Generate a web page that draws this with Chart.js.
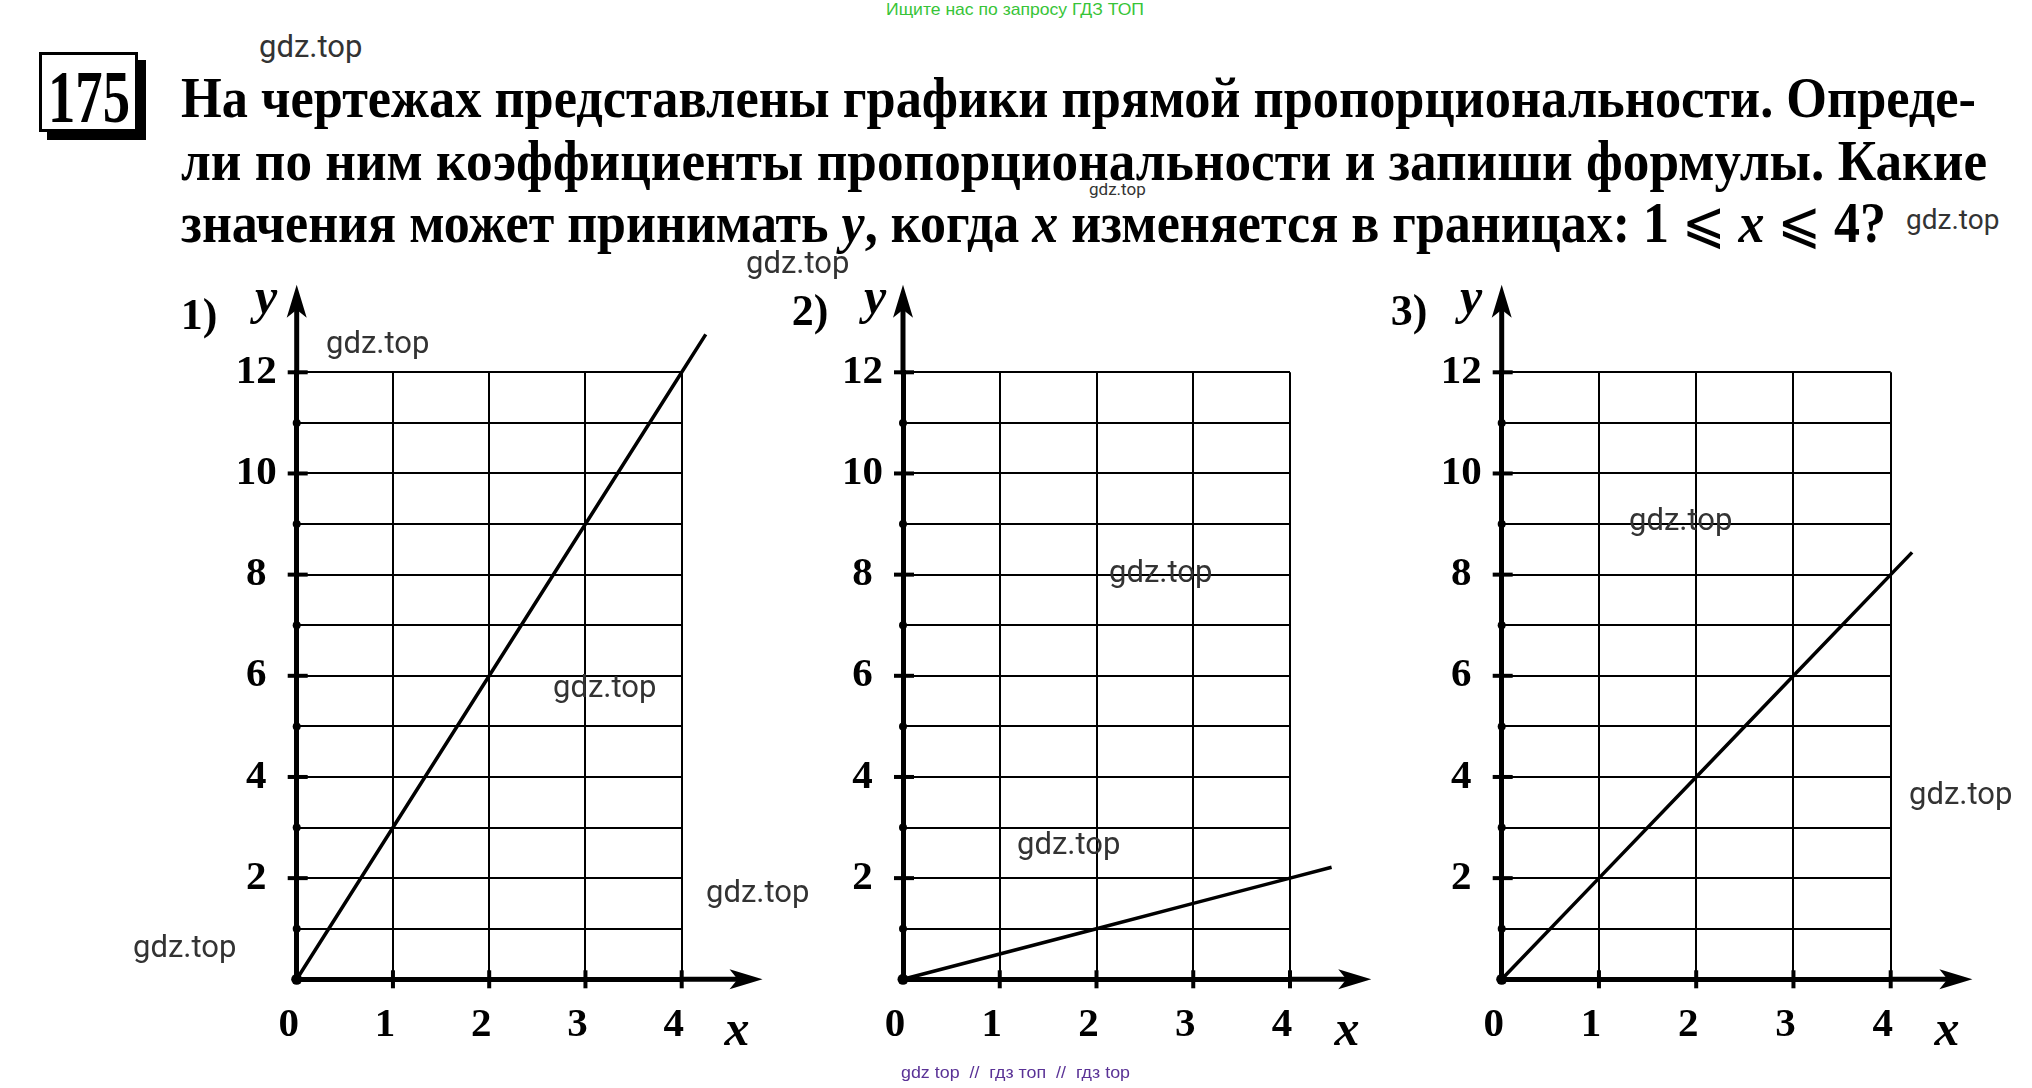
<!DOCTYPE html>
<html>
<head>
<meta charset="utf-8">
<script src="https://cdn.jsdelivr.net/npm/chart.js@4.4.1/dist/chart.umd.min.js"></script>
<style>
html,body{margin:0;padding:0;background:#fff;}
body{width:2032px;height:1088px;position:relative;overflow:hidden;}
canvas{position:absolute;}
.t{position:absolute;white-space:nowrap;transform-origin:0 50%;line-height:1;}
.title{font-family:'Liberation Serif','DejaVu Serif',serif;font-weight:bold;font-size:58px;color:#000;}
.title i{font-style:italic;}
.sym{font-family:'DejaVu Sans','Liberation Serif',serif;font-weight:normal;}
.wm{position:absolute;white-space:nowrap;line-height:1;font-family:Roboto,'Liberation Sans',sans-serif;color:#333;font-size:31px;}
.c{position:absolute;transform:translate(-50%,-50%);white-space:nowrap;line-height:1;color:#000;}
.num{font-family:'Liberation Serif',serif;font-weight:bold;font-size:44px;}
.ax{font-family:'Liberation Serif',serif;font-style:italic;font-weight:bold;font-size:50px;}
#box{position:absolute;left:39px;top:52px;width:93px;height:74px;border:3px solid #000;box-shadow:8px 8px 0 #000;background:#fff;}
#box span{position:absolute;left:6px;top:5px;font-family:'Liberation Serif',serif;font-weight:bold;font-size:74px;line-height:1;white-space:nowrap;transform-origin:0 0;}
</style>
</head>
<body>
<div class="t" data-w="258" style="left:886px;top:1px;font-family:'Liberation Sans Narrow','Liberation Sans',sans-serif;font-size:17px;color:#37c437;">Ищите нас по запросу ГДЗ ТОП</div>

<div id="box"><span data-w="82">175</span></div>

<div class="t title" data-w="1795" style="left:181px;top:69px;">На чертежах представлены графики прямой пропорциональности. Опреде-</div>
<div class="t title" data-w="1806" style="left:181px;top:132px;">ли по ним коэффициенты пропорциональности и запиши формулы. Какие</div>
<div class="t title" data-w="1705" style="left:181px;top:193px;">значения может принимать <i>y</i>, когда <i>x</i> изменяется в границах: 1 <span class="sym">⩽</span> <i>x</i> <span class="sym">⩽</span> 4?</div>

<canvas id="c1" width="634" height="800" style="left:166px;top:262px;width:634px;height:800px;"></canvas>
<canvas id="c2" width="620" height="800" style="left:780px;top:262px;width:620px;height:800px;"></canvas>
<canvas id="c3" width="650" height="800" style="left:1380px;top:262px;width:650px;height:800px;"></canvas>

<div class="c num" style="left:199px;top:315px;">1)</div>
<div class="c num" style="left:810px;top:311px;">2)</div>
<div class="c num" style="left:1409px;top:311px;">3)</div>
<div class="c ax" style="left:266px;top:296px;">y</div>
<div class="c ax" style="left:875px;top:296px;">y</div>
<div class="c ax" style="left:1471px;top:296px;">y</div>
<div class="c ax" style="left:737px;top:1028px;">x</div>
<div class="c ax" style="left:1347px;top:1028px;">x</div>
<div class="c ax" style="left:1947px;top:1028px;">x</div>

<div class="wm" style="left:259px;top:31px;">gdz.top</div>
<div class="wm" style="left:1089px;top:181px;font-size:17px;">gdz.top</div>
<div class="wm" style="left:1906px;top:206px;font-size:28px;">gdz.top</div>
<div class="wm" style="left:746px;top:247px;">gdz.top</div>
<div class="wm" style="left:326px;top:327px;">gdz.top</div>
<div class="wm" style="left:553px;top:671px;">gdz.top</div>
<div class="wm" style="left:706px;top:876px;">gdz.top</div>
<div class="wm" style="left:133px;top:931px;">gdz.top</div>
<div class="wm" style="left:1109px;top:556px;">gdz.top</div>
<div class="wm" style="left:1017px;top:828px;">gdz.top</div>
<div class="wm" style="left:1629px;top:504px;">gdz.top</div>
<div class="wm" style="left:1909px;top:778px;">gdz.top</div>

<div class="t" data-w="229" style="left:901px;top:1064px;font-family:'Liberation Sans Narrow','Liberation Sans',sans-serif;font-size:17px;color:#5a3296;">gdz top &nbsp;// &nbsp;гдз топ &nbsp;// &nbsp;гдз top</div>

<script>
// ---- data ----
const xTickValues = [0, 1, 2, 3, 4];
const xTickLabels = ['0', '1', '2', '3', '4'];
const yTickValues = [0, 1, 2, 3, 4, 5, 6, 7, 8, 9, 10, 11, 12];
const yTickLabels = ['', '', '2', '', '4', '', '6', '', '8', '', '10', '', '12'];

// points listed from the far end of each line back to the origin
const chart1X = [4.25, 4, 3, 2, 1, 0];
const chart1Y = [12.75, 12, 9, 6, 3, 0];
const chart2X = [4.43, 4, 3, 2, 1, 0];
const chart2Y = [2.215, 2, 1.5, 1, 0.5, 0];
const chart3X = [4.22, 4, 3, 2, 1, 0];
const chart3Y = [8.44, 8, 6, 4, 2, 0];

// fit texts to measured widths
function fitTexts() {
  document.querySelectorAll('[data-w]').forEach(el => {
    el.style.transform = 'none';
    el.style.display = 'inline-block';
    const w = el.getBoundingClientRect().width;
    const target = parseFloat(el.dataset.w);
    if (w > 0) el.style.transform = 'scaleX(' + (target / w) + ')';
  });
}

const decor = {
  id: 'decor',
  afterDraw(chart, args, opts) {
    const { ctx } = chart;
    const x = chart.scales.x, y = chart.scales.y;
    const x0 = x.getPixelForValue(0), y0 = y.getPixelForValue(0);
    const xEnd = x.getPixelForValue(x.max), yEnd = y.getPixelForValue(y.max);
    const xTip = x.getPixelForValue(opts.xArrow), yTip = y.getPixelForValue(opts.yArrow);
    ctx.save();
    ctx.strokeStyle = '#000';
    ctx.fillStyle = '#000';
    ctx.lineWidth = 5;
    ctx.lineCap = 'butt';
    ctx.beginPath(); ctx.moveTo(xEnd - 2, y0); ctx.lineTo(xTip - 22, y0); ctx.stroke();
    ctx.beginPath(); ctx.moveTo(x0, yEnd + 2); ctx.lineTo(x0, yTip + 22); ctx.stroke();
    // arrowheads
    ctx.beginPath();
    ctx.moveTo(xTip, y0); ctx.lineTo(xTip - 33, y0 - 10); ctx.lineTo(xTip - 25, y0); ctx.lineTo(xTip - 33, y0 + 10); ctx.closePath(); ctx.fill();
    ctx.beginPath();
    ctx.moveTo(x0, yTip); ctx.lineTo(x0 - 10, yTip + 33); ctx.lineTo(x0, yTip + 25); ctx.lineTo(x0 + 10, yTip + 33); ctx.closePath(); ctx.fill();
    // tick marks
    ctx.lineWidth = 4;
    x.ticks.forEach(t => {
      if (t.value === 0) return;
      const px = x.getPixelForValue(t.value);
      ctx.beginPath(); ctx.moveTo(px, y0 - 9); ctx.lineTo(px, y0 + 9); ctx.stroke();
    });
    y.ticks.forEach(t => {
      if (t.value === 0) return;
      const py = y.getPixelForValue(t.value);
      if (t.value % 2 === 0) {
        ctx.beginPath(); ctx.moveTo(x0 - 9, py); ctx.lineTo(x0 + 11, py); ctx.stroke();
      } else {
        ctx.beginPath(); ctx.arc(x0, py, 4, 0, Math.PI * 2); ctx.fill();
      }
    });
    ctx.beginPath(); ctx.arc(x0, y0, 5.5, 0, Math.PI * 2); ctx.fill();
    ctx.restore();
  }
};
Chart.register(decor);

const tickFont = { family: 'Liberation Serif', size: 41, weight: 'bold', lineHeight: 1.2 };

function build(id, xs, ys, pad) {
  const pts = xs.map((v, i) => ({ x: v, y: ys[i] }));
  return new Chart(document.getElementById(id), {
    type: 'line',
    data: { datasets: [{ data: pts, borderColor: '#000', borderWidth: 3.5, pointRadius: 0, tension: 0, clip: false, fill: false }] },
    options: {
      responsive: false, animation: false, devicePixelRatio: 1,
      layout: { padding: pad },
      plugins: { legend: { display: false }, tooltip: { enabled: false }, decor: { xArrow: 4.84, yArrow: 13.73 } },
      scales: {
        x: {
          type: 'linear', min: xTickValues[0], max: xTickValues[xTickValues.length - 1],
          afterFit: s => { s.height = 80; },
          afterBuildTicks: s => { s.ticks = xTickValues.map(v => ({ value: v })); },
          ticks: {
            autoSkip: false, maxRotation: 0, padding: 22, labelOffset: -8, color: '#000', font: tickFont,
            callback: v => { const i = xTickValues.indexOf(v); return i >= 0 ? xTickLabels[i] : ''; }
          },
          grid: { color: '#000', lineWidth: 2, drawTicks: false },
          border: { display: true, color: '#000', width: 5 }
        },
        y: {
          type: 'linear', min: yTickValues[0], max: yTickValues[yTickValues.length - 1],
          afterFit: s => { s.width = 100; },
          afterBuildTicks: s => { s.ticks = yTickValues.map(v => ({ value: v })); },
          ticks: {
            autoSkip: false, padding: 20, crossAlign: 'center', color: '#000', font: tickFont,
            callback: v => { const i = yTickValues.indexOf(v); return i >= 0 ? yTickLabels[i] : ''; }
          },
          grid: { color: '#000', lineWidth: 2, drawTicks: false },
          border: { display: true, color: '#000', width: 5 }
        }
      }
    }
  });
}

fitTexts();
build('c1', chart1X, chart1Y, { left: 30.7, top: 110.3, right: 118.3, bottom: 2.7 });
build('c2', chart2X, chart2Y, { left: 23, top: 110.3, right: 110, bottom: 2.7 });
build('c3', chart3X, chart3Y, { left: 21.7, top: 110.3, right: 139.3, bottom: 2.7 });
if (document.fonts && document.fonts.ready) document.fonts.ready.then(fitTexts);
</script>
</body>
</html>
